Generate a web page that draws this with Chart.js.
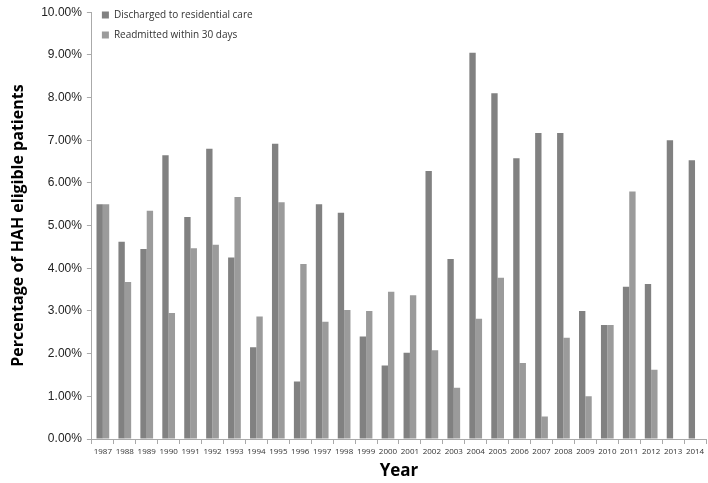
<!DOCTYPE html>
<html><head><meta charset="utf-8">
<script src="https://cdn.jsdelivr.net/npm/chart.js@4"></script>
<style>html,body{margin:0;padding:0;background:#fff}#wrap{width:708px;height:483px}</style>
</head><body><div id="wrap"><canvas id="c"></canvas></div>
<script>
const years = ["1987","1988","1989","1990","1991","1992","1993","1994","1995","1996","1997","1998","1999","2000","2001","2002","2003","2004","2005","2006","2007","2008","2009","2010","2011","2012","2013","2014"];
const discharged = [5.50,4.62,4.45,6.65,5.20,6.80,4.25,2.15,6.92,1.35,5.50,5.30,2.40,1.72,2.02,6.28,4.22,9.05,8.10,6.58,7.17,7.17,3.00,2.67,3.57,3.63,7.00,6.53];
const readmitted = [5.50,3.68,5.35,2.95,4.47,4.55,5.67,2.87,5.55,4.10,2.75,3.02,3.00,3.45,3.37,2.08,1.20,2.82,3.78,1.78,0.53,2.37,1.00,2.67,5.80,1.62,0,0];
const seriesNames = ["Discharged to residential care","Readmitted within 30 days"];

new Chart(document.getElementById('c'), {
  type: 'bar',
  data: {
    labels: years,
    datasets: [
      {label: seriesNames[0], data: discharged, backgroundColor: '#818181', categoryPercentage: 0.58, barPercentage: 1.0},
      {label: seriesNames[1], data: readmitted, backgroundColor: '#9b9b9b', categoryPercentage: 0.58, barPercentage: 1.0}
    ]
  },
  options: {
    responsive: true, maintainAspectRatio: false, animation: false,
    layout: {padding: {top: 0, right: 2, left: 5, bottom: 2}},
    plugins: {
      legend: {
        position: 'chartArea', align: 'start',
        labels: {boxWidth: 7, boxHeight: 7, padding: 10, color: '#333', font: {family: 'Open Sans', size: 10}}
      },
      tooltip: {enabled: false}
    },
    scales: {
      x: {
        grid: {drawOnChartArea: false, offset: true, tickLength: 5, color: '#aaa'},
        border: {color: '#aaa'},
        ticks: {color: '#333', font: {family: 'Open Sans', size: 8}, maxRotation: 0, autoSkip: false, padding: 3},
        title: {display: true, text: 'Year', color: '#000', font: {family: 'Open Sans', size: 17, weight: 'bold'}, padding: {top: 1, bottom: 0}}
      },
      y: {
        min: 0, max: 10,
        grid: {drawOnChartArea: false, tickLength: 5, color: '#aaa'},
        border: {color: '#aaa'},
        ticks: {stepSize: 1, color: '#222', font: {family: 'Liberation Sans', size: 12}, padding: 5,
          callback: v => v.toFixed(2) + '%'},
        title: {display: true, text: 'Percentage of HAH eligible patients', color: '#000', font: {family: 'Open Sans', size: 16, weight: 'bold'}, padding: {bottom: 8}}
      }
    }
  }
});
</script>
</body></html>
